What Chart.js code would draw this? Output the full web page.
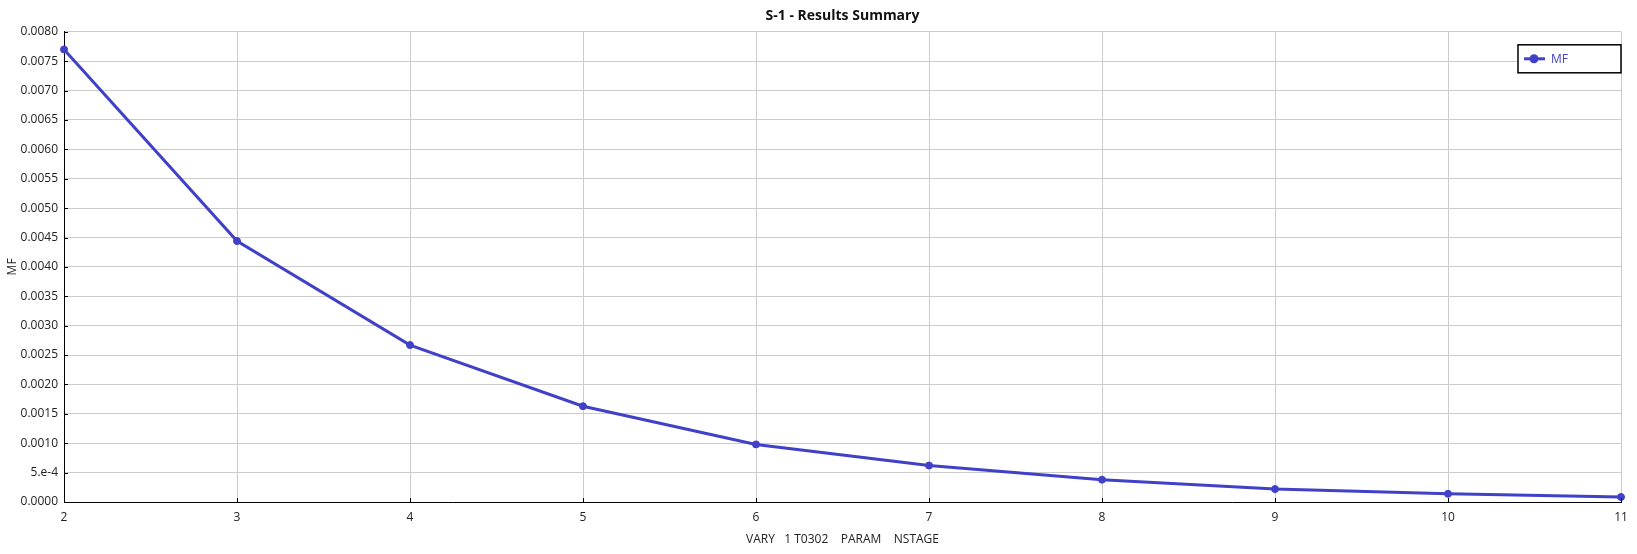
<!DOCTYPE html>
<html>
<head>
<meta charset="utf-8">
<title>S-1 - Results Summary</title>
<script src="https://cdn.jsdelivr.net/npm/chart.js@4.4.1/dist/chart.umd.min.js"></script>
<style>
    html, body { margin: 0; padding: 0; background: #ffffff; }
    #wrap { width: 1637px; height: 554px; }
</style>
</head>
<body>
<div id="wrap"><canvas id="linechart"></canvas></div>
<script>
// data
var nstage = [2, 3, 4, 5, 6, 7, 8, 9, 10, 11];
var mfValues = [0.00770, 0.00444, 0.00267, 0.00163, 0.00098, 0.00062, 0.00038, 0.00022, 0.00014, 0.000085];
var seriesName = 'MF';
var lineColor = '#4040c8';

var points = nstage.map(function (n, i) { return { x: n, y: mfValues[i] }; });

// small black ticks drawn inside the plot, plus the boxed legend
var framePlugin = {
    id: 'frame',
    afterDraw: function (chart) {
        var ctx = chart.ctx;
        var area = chart.chartArea;
        var xs = chart.scales.x, ys = chart.scales.y;
        ctx.save();
        ctx.strokeStyle = '#000';
        ctx.lineWidth = 1;
        ctx.beginPath();
        ys.ticks.forEach(function (t) {
            var py = Math.round(ys.getPixelForValue(t.value)) + 0.5;
            ctx.moveTo(area.left, py);
            ctx.lineTo(area.left + 4, py);
        });
        xs.ticks.forEach(function (t) {
            var px = Math.round(xs.getPixelForValue(t.value)) + 0.5;
            ctx.moveTo(px, area.bottom);
            ctx.lineTo(px, area.bottom - 4);
        });
        ctx.stroke();

        // legend box
        var bx = area.right - 103, by = area.top + 13, bw = 103, bh = 28;
        ctx.fillStyle = '#fff';
        ctx.fillRect(bx, by, bw, bh);
        ctx.lineWidth = 1.5;
        ctx.strokeStyle = '#000';
        ctx.strokeRect(bx, by, bw, bh);
        var cy = by + bh / 2;
        ctx.strokeStyle = lineColor;
        ctx.lineWidth = 3;
        ctx.beginPath();
        ctx.moveTo(bx + 6, cy);
        ctx.lineTo(bx + 27, cy);
        ctx.stroke();
        ctx.fillStyle = lineColor;
        ctx.beginPath();
        ctx.arc(bx + 16, cy, 4.5, 0, Math.PI * 2);
        ctx.fill();
        ctx.font = '12px "Open Sans", sans-serif';
        ctx.textBaseline = 'middle';
        ctx.textAlign = 'left';
        ctx.fillText(seriesName, bx + 33, cy + 1);
        ctx.restore();
    }
};

var chart1 = document.getElementById('linechart');
var myChart1 = new Chart(chart1, {
    type: 'line',
    data: {
        datasets: [{
            label: seriesName,
            data: points,
            borderColor: lineColor,
            backgroundColor: lineColor,
            borderWidth: 3,
            pointRadius: 3.5,
            pointBorderWidth: 1,
            pointBackgroundColor: lineColor,
            fill: false,
            tension: 0,
            clip: false
        }]
    },
    options: {
        responsive: true,
        maintainAspectRatio: false,
        animation: false,
        layout: {
            padding: { left: 0, right: 16, top: 0, bottom: 0 }
        },
        font: { family: '"Open Sans", sans-serif' },
        scales: {
            x: {
                type: 'linear',
                min: 2,
                max: 11,
                afterFit: function (s) { s.height = 52; },
                ticks: {
                    stepSize: 1,
                    padding: 8,
                    color: '#222',
                    font: { size: 12, family: '"Open Sans", sans-serif' }
                },
                grid: { color: '#cccccc', lineWidth: 1, drawTicks: false },
                border: { color: '#000', width: 1 },
                title: {
                    display: true,
                    text: 'VARY   1 T0302    PARAM    NSTAGE',
                    color: '#222',
                    font: { size: 12, family: '"Open Sans", sans-serif' },
                    padding: { top: 4, bottom: 7 }
                }
            },
            y: {
                min: 0,
                max: 0.008,
                afterFit: function (s) { s.width = 64; },
                ticks: {
                    stepSize: 0.0005,
                    padding: 6,
                    color: '#222',
                    font: { size: 12, family: '"Open Sans", sans-serif' },
                    callback: function (v) {
                        if (Math.abs(v - 0.0005) < 1e-9) return '5.e-4';
                        return v.toFixed(4);
                    }
                },
                grid: { color: '#cccccc', lineWidth: 1, drawTicks: false },
                border: { color: '#000', width: 1 },
                title: {
                    display: true,
                    text: 'MF',
                    color: '#222',
                    font: { size: 12, family: '"Open Sans", sans-serif' },
                    padding: { top: 5, bottom: 0 }
                }
            }
        },
        plugins: {
            legend: { display: false },
            tooltip: { enabled: false },
            title: {
                display: true,
                fullSize: false,
                text: 'S-1 - Results Summary',
                color: '#111',
                font: { size: 14, weight: 'bold', family: '"Open Sans", sans-serif' },
                padding: { top: 8, bottom: 7 }
            }
        }
    },
    plugins: [framePlugin]
});
</script>
</body>
</html>
